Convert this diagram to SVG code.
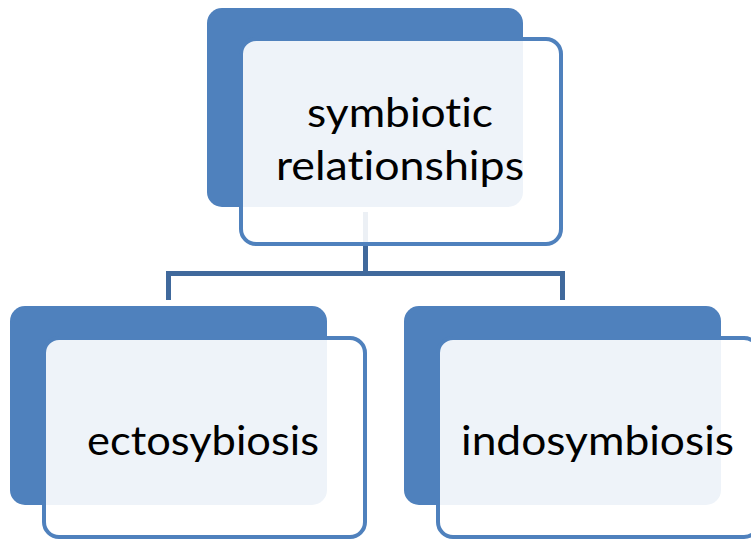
<svg xmlns="http://www.w3.org/2000/svg" width="751" height="544" viewBox="0 0 751 544">
<style>
.back{fill:#4f81bd;}
.front{fill:#ffffff;fill-opacity:0.9;stroke:#4f81bd;stroke-width:4;}
.conn{fill:none;stroke:#40699c;stroke-width:5;}
.lbl{font-family:Lato,"Open Sans","Liberation Sans",sans-serif;font-size:40px;fill:#000000;font-variant-ligatures:none;font-feature-settings:"liga" 0,"clig" 0;}
</style>
<rect width="751" height="544" fill="#ffffff"/>
<g id="node-root-back">
<rect class="back" x="207" y="8" width="316" height="199" rx="15"/>
</g>
<g id="node-left-back">
<rect class="back" x="10" y="306" width="317" height="199" rx="15"/>
</g>
<g id="node-right-back">
<rect class="back" x="404" y="306" width="317" height="199" rx="15"/>
</g>
<g id="connectors">
<path class="conn" d="M365.5 212 V273.5 M168.5 300 V273.5 H562.5 V300"/>
</g>
<g id="node-root">
<rect class="front" x="241" y="39" width="320" height="205" rx="15"/>
<text class="lbl" x="307" y="127" textLength="186" lengthAdjust="spacingAndGlyphs">symbiotic</text>
<text class="lbl" x="276" y="180" textLength="248" lengthAdjust="spacingAndGlyphs">relationships</text>
</g>
<g id="node-ectosybiosis">
<rect class="front" x="44" y="338" width="321" height="199" rx="15"/>
<text class="lbl" x="87" y="455" textLength="232" lengthAdjust="spacingAndGlyphs">ectosybiosis</text>
</g>
<g id="node-indosymbiosis">
<rect class="front" x="438" y="338" width="321" height="199" rx="15"/>
<text class="lbl" x="461" y="455" textLength="273" lengthAdjust="spacingAndGlyphs">indosymbiosis</text>
</g>
</svg>
